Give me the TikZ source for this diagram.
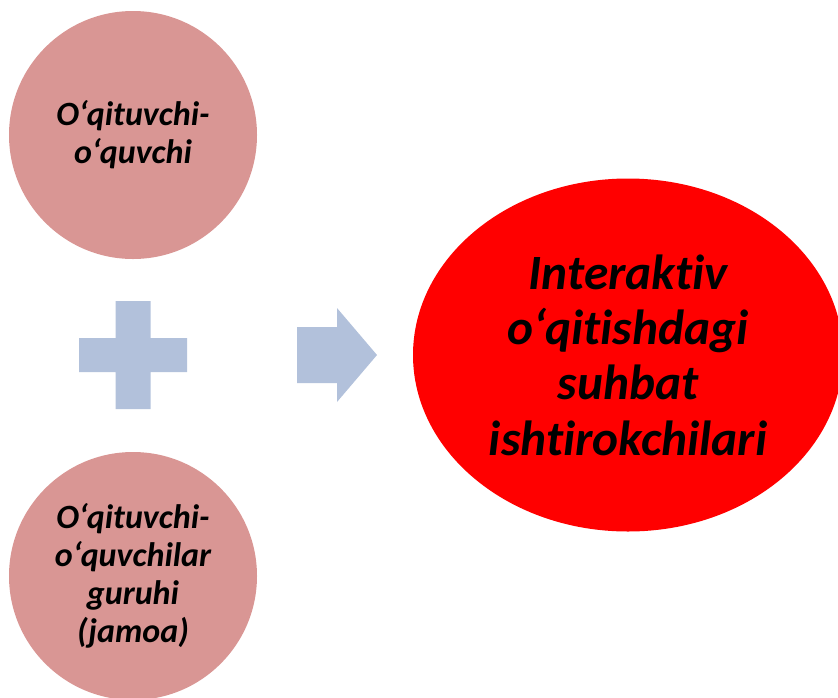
\documentclass[tikz,border=0pt]{standalone}
\usepackage{fontspec}
\setmainfont{Carlito}[Ligatures={NoCommon,NoContextual}]
\usepackage{xcolor}
\usetikzlibrary{shapes.geometric}
\definecolor{rosefill}{HTML}{D99694}
\definecolor{bluefill}{HTML}{B2C1DB}

\begin{document}
\begin{tikzpicture}[x=0.75pt,y=-0.75pt]
  \tikzset{party/.style={circle,fill=rosefill,minimum size=248*0.75pt,inner sep=0pt,align=center,
                         font=\fontsize{25.5pt}{28.5pt}\selectfont\bfseries\itshape},
           sign/.style={fill=bluefill}}
  \useasboundingbox (0,0) rectangle (838,697);
  \clip (0,0) rectangle (838,697);
    \node [party] (pair) at (133,135) {O‘qituvchi-\\o‘quvchi};
    \node [party] (group) at (133,576) {O‘qituvchi-\\o‘quvchilar\\guruhi\\(jamoa)};
    \node [ellipse,fill=red,minimum width=430*0.75pt,minimum height=353*0.75pt,inner sep=0pt,align=center,
           font=\fontsize{37pt}{41.5pt}\selectfont\bfseries\itshape] (talk) at (628,355)
          {Interaktiv\\o‘qitishdagi\\suhbat\\ishtirokchilari};
    \fill [sign] (115.5,301) -- (150.5,301) -- (150.5,338) -- (187,338) -- (187,372) -- (150.5,372)
                 -- (150.5,409) -- (115.5,409) -- (115.5,372) -- (79,372) -- (79,338) -- (115.5,338) -- cycle;
    \fill [sign] (297,327) -- (337,327) -- (337,308) -- (377,355) -- (337,402) -- (337,383) -- (297,383) -- cycle;
\end{tikzpicture}
\end{document}
